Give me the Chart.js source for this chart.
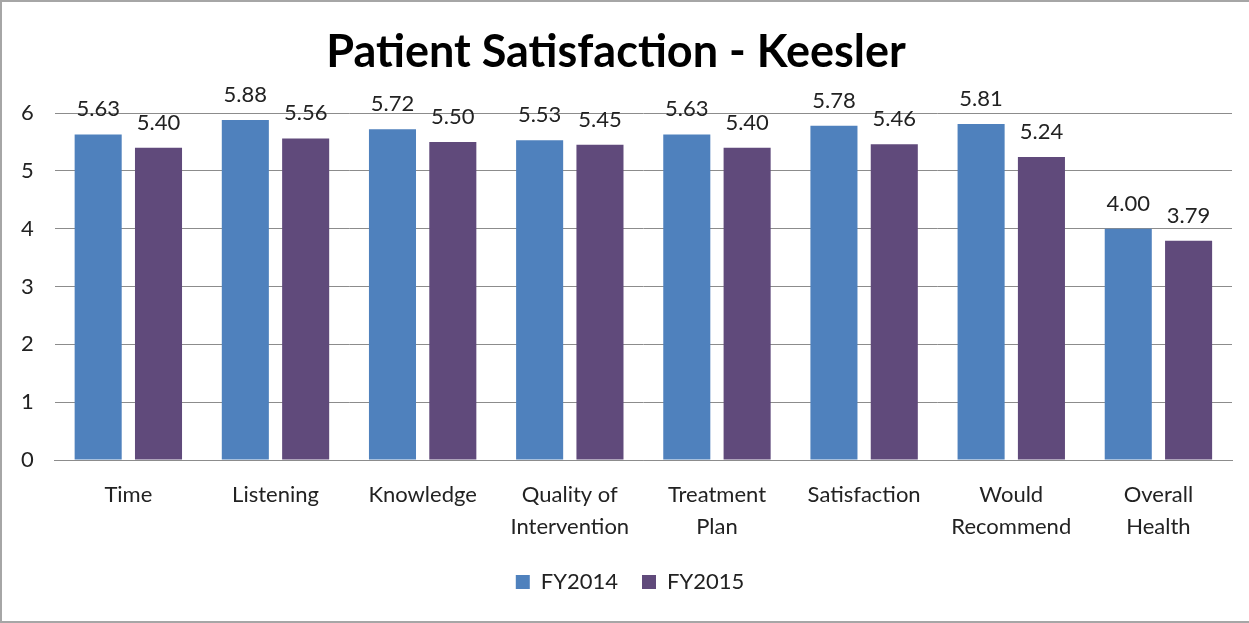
<!DOCTYPE html>
<html>
<head>
<meta charset="utf-8">
<script src="https://cdn.jsdelivr.net/npm/chart.js@4/dist/chart.umd.min.js"></script>
<style>
html,body{margin:0;padding:0;background:#fff;}
#frame{position:absolute;left:0;top:0;width:1249px;height:623px;box-sizing:border-box;border-left:2px solid #a6a6a6;border-top:2px solid #a6a6a6;border-bottom:2px solid #a6a6a6;}
#wrap{position:absolute;left:0;top:0;width:1249px;height:623px;}
</style>
</head>
<body>
<div id="frame"></div>
<div id="wrap"><canvas id="c" width="1249" height="623"></canvas></div>
<script>
const categories = ["Time", "Listening", "Knowledge", ["Quality of", "Intervention"], ["Treatment", "Plan"], "Satisfaction", ["Would", "Recommend"], ["Overall", "Health"]];
const fy2014 = [5.63, 5.88, 5.72, 5.53, 5.63, 5.78, 5.81, 4.00];
const fy2015 = [5.40, 5.56, 5.50, 5.45, 5.40, 5.46, 5.24, 3.79];
const seriesNames = ["FY2014", "FY2015"];
const yTicks = [0, 1, 2, 3, 4, 5, 6];

const FONT = "Lato, 'Open Sans', sans-serif";

const labelPlugin = {
  id: 'barLabels',
  afterLayout(chart) {
    if (chart.legend) { chart.legend.left += 14; chart.legend.right += 14; }
  },
  afterDatasetsDraw(chart) {
    const ctx = chart.ctx;
    ctx.save();
    ctx.font = "22px " + FONT;
    ctx.fillStyle = "#222";
    ctx.textAlign = "center";
    ctx.textBaseline = "alphabetic";
    chart.data.datasets.forEach((ds, i) => {
      const meta = chart.getDatasetMeta(i);
      meta.data.forEach((bar, j) => {
        ctx.fillText(ds.data[j].toFixed(2), bar.x, bar.y - 18);
      });
    });
    ctx.restore();
  }
};

new Chart(document.getElementById('c'), {
  type: 'bar',
  data: {
    labels: categories,
    datasets: [
      { label: seriesNames[0], data: fy2014, backgroundColor: '#4F81BD', barPercentage: 0.78, categoryPercentage: 0.82 },
      { label: seriesNames[1], data: fy2015, backgroundColor: '#604A7B', barPercentage: 0.78, categoryPercentage: 0.82 }
    ]
  },
  options: {
    responsive: false,
    animation: false,
    devicePixelRatio: 1,
    layout: { padding: { left: 0, right: 17, top: 0, bottom: 20 } },
    plugins: {
      title: {
        display: true,
        text: 'Patient Satisfaction - Keesler',
        color: '#000',
        font: { family: FONT, size: 45, weight: 'bold', lineHeight: 1.2 },
        padding: { top: 25, bottom: 34 }
      },
      legend: {
        position: 'bottom',
        labels: {
          color: '#222',
          font: { family: FONT, size: 22 },
          boxWidth: 14, boxHeight: 14, padding: 24
        }
      },
      tooltip: { enabled: false }
    },
    scales: {
      x: {
        grid: { display: false, drawTicks: false },
        border: { display: true, color: '#8c8c8c', width: 1 },
        ticks: { color: '#222', font: { family: FONT, size: 22, lineHeight: 1.45 }, padding: 19, maxRotation: 0, autoSkip: false },
        afterFit(axis) { axis.height = 87; }
      },
      y: {
        min: 0, max: 6,
        afterBuildTicks(axis) { axis.ticks = yTicks.map(v => ({ value: v })); },
        grid: { color: '#8c8c8c', drawTicks: false, lineWidth: 1 },
        border: { display: false },
        ticks: { color: '#222', font: { family: FONT, size: 22 }, padding: 21 }
      }
    }
  },
  plugins: [labelPlugin]
});
</script>
</body>
</html>
